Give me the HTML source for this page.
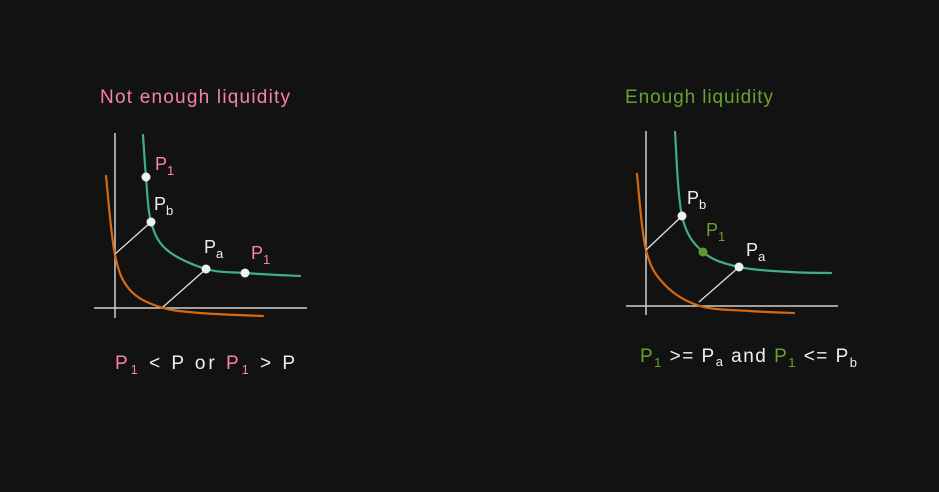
<!DOCTYPE html>
<html><head><meta charset="utf-8"><style>
html,body{margin:0;padding:0;background:#121212;}
svg{display:block}
text{font-family:"Liberation Sans",sans-serif;}
</style></head><body>
<svg id="c" width="939" height="492" viewBox="0 0 939 492">
<rect width="939" height="492" fill="#121212"/>
<text x="100" y="103" fill="#f783ac" font-size="19" textLength="190" lengthAdjust="spacing">Not enough liquidity</text>
<text x="625" y="103" fill="#66a32e" font-size="19" textLength="148" lengthAdjust="spacing">Enough liquidity</text>
<g stroke="#d0d0d0" stroke-width="1.5">
<line x1="115" y1="133" x2="115" y2="318"/><line x1="94" y1="308" x2="307" y2="308"/></g>
<g stroke="#d0d0d0" stroke-width="1.5">
<line x1="646" y1="131" x2="646" y2="315"/><line x1="626" y1="306" x2="838" y2="306"/></g>
<g id="curves"></g>
<g stroke="#e0e0e0" stroke-width="1.3">
<line x1="115" y1="254" x2="151" y2="222"/><line x1="163" y1="307" x2="206" y2="269"/>
<line x1="646" y1="250" x2="682" y2="216"/><line x1="699" y1="302" x2="739" y2="267"/></g>
<g>
<circle cx="146" cy="177" r="4.5" fill="#f0f0f0"/>
<circle cx="151" cy="222" r="4.5" fill="#f0f0f0"/>
<circle cx="206" cy="269" r="4.5" fill="#f0f0f0"/>
<circle cx="245" cy="273" r="4.5" fill="#f0f0f0"/>
<circle cx="682" cy="216" r="4.5" fill="#f0f0f0"/>
<circle cx="703" cy="252" r="4.5" fill="#5f9a2a"/>
<circle cx="739" cy="267" r="4.5" fill="#f0f0f0"/>
</g>
<g font-size="18">
<text x="155" y="170" fill="#f783ac">P<tspan font-size="13" dy="5">1</tspan></text>
<text x="154" y="210" fill="#f0f0f0">P<tspan font-size="13" dy="5">b</tspan></text>
<text x="204" y="253" fill="#f0f0f0">P<tspan font-size="13" dy="5">a</tspan></text>
<text x="251" y="259" fill="#f783ac">P<tspan font-size="13" dy="5">1</tspan></text>
<text x="687" y="204" fill="#f0f0f0">P<tspan font-size="13" dy="5">b</tspan></text>
<text x="706" y="236" fill="#66a32e">P<tspan font-size="13" dy="5">1</tspan></text>
<text x="746" y="256" fill="#f0f0f0">P<tspan font-size="13" dy="5">a</tspan></text>
</g>
<text x="115" y="369" fill="#f0f0f0" font-size="19" textLength="180" lengthAdjust="spacing"><tspan fill="#f783ac">P<tspan font-size="13" dy="5">1</tspan></tspan><tspan dy="-5"> &lt; P or  </tspan><tspan fill="#f783ac">P<tspan font-size="13" dy="5">1</tspan></tspan><tspan dy="-5"> &gt; P</tspan></text>
<text x="640" y="362" fill="#f0f0f0" font-size="19" textLength="217" lengthAdjust="spacing"><tspan fill="#66a32e">P<tspan font-size="13" dy="5">1</tspan></tspan><tspan dy="-5">  &gt;= P</tspan><tspan font-size="13" dy="4">a</tspan><tspan dy="-4"> and </tspan><tspan fill="#66a32e">P<tspan font-size="13" dy="5">1</tspan></tspan><tspan dy="-5">  &lt;= P</tspan><tspan font-size="13" dy="5">b</tspan></text>
</svg>
<script>
const leftGreen=[[143,135],[146,177],[151,222],[167,250],[206,269],[245,273],[300,276]];
const leftOrange=[[106,176],[115,255],[130,290],[160,307],[200,313],[263,316]];
const rightGreen=[[675,132],[682,216],[703,252],[739,267],[790,272],[831,273]];
const rightOrange=[[637,174],[646,250],[665,285],[700,306],[750,311],[794,313]];
function cr(p){let d='M'+p[0][0]+','+p[0][1];
for(let i=0;i<p.length-1;i++){const a=p[i-1]||p[i],b=p[i],c=p[i+1],e=p[i+2]||c;
d+=' C'+(b[0]+(c[0]-a[0])/6)+','+(b[1]+(c[1]-a[1])/6)+' '+(c[0]-(e[0]-b[0])/6)+','+(c[1]-(e[1]-b[1])/6)+' '+c[0]+','+c[1];}return d;}
const g=document.getElementById('curves');
[[leftGreen,'#3fae8a','left-green-curve'],[leftOrange,'#d9690f','left-orange-curve'],[rightGreen,'#3fae8a','right-green-curve'],[rightOrange,'#d9690f','right-orange-curve']].forEach(([pts,col,name])=>{
const el=document.createElementNS('http://www.w3.org/2000/svg','path');
el.setAttribute('d',cr(pts));el.setAttribute('fill','none');el.setAttribute('stroke',col);el.setAttribute('stroke-width','2.2');el.setAttribute('stroke-linecap','round');


g.appendChild(el);});
</script>
</body></html>
